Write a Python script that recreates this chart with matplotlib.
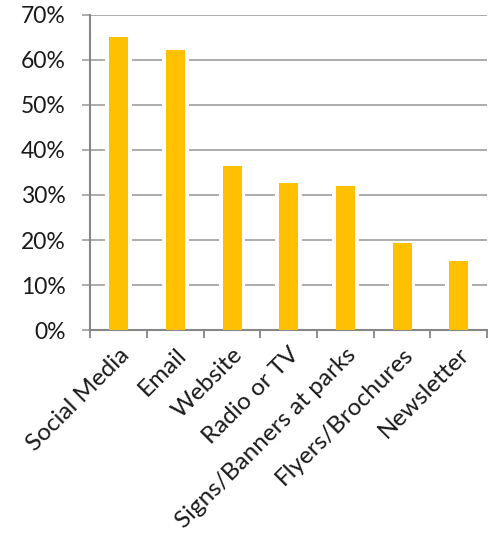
import matplotlib.pyplot as plt
import numpy as np
from matplotlib.ticker import FixedLocator, PercentFormatter

# данні з картинки
categories = ["Social Media", "Email", "Website", "Radio or TV",
              "Signs/Banners at parks", "Flyers/Brochures", "Newsletter"]
values = [65.1, 62.2, 36.4, 32.6, 31.9, 19.4, 15.3]
yticks = [0, 10, 20, 30, 40, 50, 60, 70]

plt.rcParams['font.family'] = ['Lato', 'DejaVu Sans']

fig = plt.figure(figsize=(4.95, 5.41), dpi=100)
ax = fig.add_axes([0.1828, 0.390, 0.801, 0.5823])

x = np.arange(len(categories))
# білий фон під стовпчиками, щоб розірвати сітку
ax.bar(x, values, width=0.47, color='white', zorder=2)
ax.bar(x, values, width=0.336, color='#FFC000', zorder=3)

ax.set_xlim(-0.5, len(categories) - 0.5)
ax.set_ylim(0, 70)
ax.set_yticks(yticks)
ax.yaxis.set_major_formatter(PercentFormatter(decimals=0))
ax.yaxis.grid(True, color='#a6a6a6', lw=1.3, zorder=1)
ax.set_axisbelow(True)

ax.set_xticks(x)
ax.set_xticklabels(categories, rotation=45, ha='right', va='top',
                   rotation_mode='anchor')
ax.xaxis.set_minor_locator(FixedLocator(np.arange(len(categories) + 1) - 0.5))
ax.tick_params(axis='x', which='major', length=0, pad=10, labelsize=17.5,
               labelcolor='#1a1a1a')
ax.tick_params(axis='x', which='minor', length=6, width=1.3, color='#868686')
ax.tick_params(axis='y', length=6, width=1.3, color='#a6a6a6', pad=12,
               labelsize=16.5, labelcolor='#1a1a1a')

for side in ['top', 'right']:
    ax.spines[side].set_visible(False)
for side in ['left', 'bottom']:
    ax.spines[side].set_color('#868686')
    ax.spines[side].set_linewidth(1.5)

fig.savefig('out.png', dpi=100)
